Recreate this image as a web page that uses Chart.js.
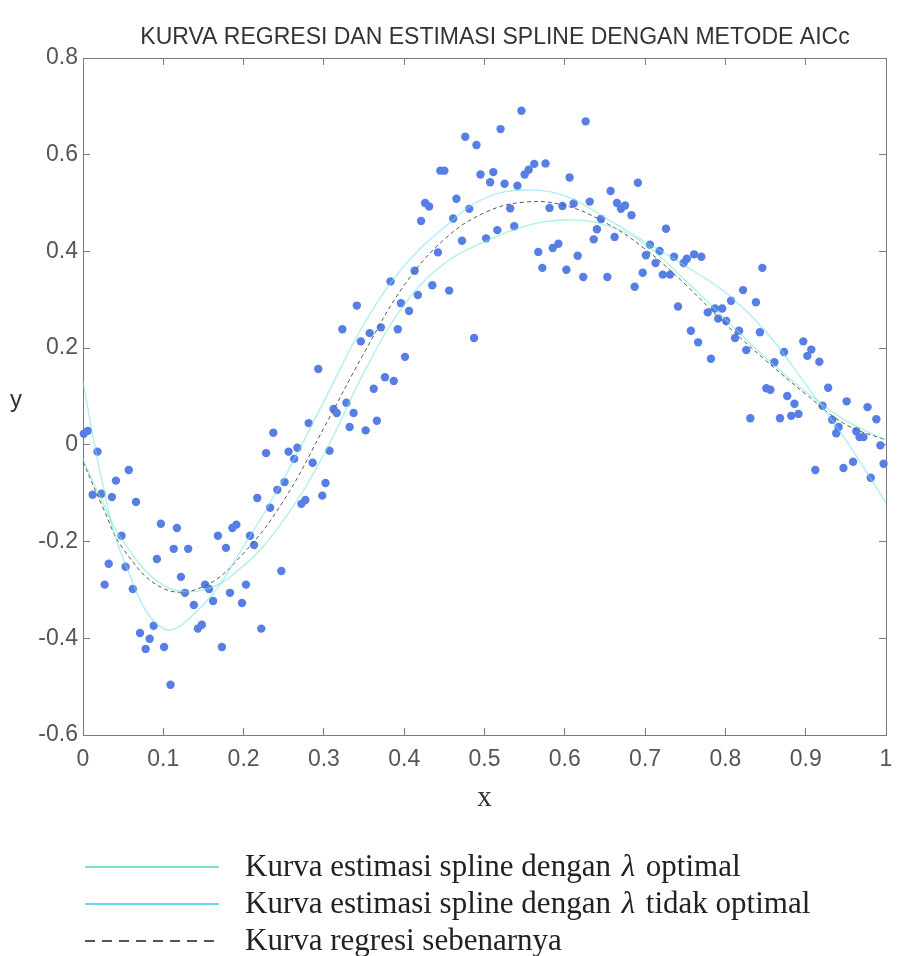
<!DOCTYPE html>
<html>
<head>
<meta charset="utf-8">
<script src="https://cdn.jsdelivr.net/npm/chart.js@4.4.1/dist/chart.umd.min.js"></script>
<style>
  body { margin: 0; background: #fff; }
  canvas { display: block; }
</style>
</head>
<body>
<canvas id="grafik" width="898" height="956"></canvas>
<script>

// DATI
var judul = 'KURVA REGRESI DAN ESTIMASI SPLINE DENGAN METODE AICc';

var titikX = [
  0.001, 0.006, 0.018, 0.012, 0.023, 0.036, 0.041, 0.057, 0.066, 0.048,
  0.032, 0.053, 0.027, 0.062, 0.071, 0.078, 0.083, 0.088, 0.101, 0.109,
  0.092, 0.097, 0.113, 0.117, 0.131, 0.122, 0.127, 0.138, 0.143, 0.148,
  0.152, 0.157, 0.162, 0.173, 0.168, 0.178, 0.186, 0.191, 0.183, 0.198,
  0.203, 0.208, 0.213, 0.217, 0.222, 0.233, 0.228, 0.237, 0.247, 0.242,
  0.251, 0.256, 0.263, 0.267, 0.272, 0.277, 0.281, 0.286, 0.298, 0.302,
  0.307, 0.312, 0.316, 0.328, 0.332, 0.337, 0.293, 0.352, 0.366, 0.362,
  0.376, 0.387, 0.401, 0.323, 0.341, 0.346, 0.357, 0.371, 0.392, 0.396,
  0.406, 0.383, 0.413, 0.417, 0.435, 0.442, 0.421, 0.426, 0.431, 0.456,
  0.461, 0.465, 0.481, 0.472, 0.445, 0.450, 0.476, 0.490, 0.487, 0.502,
  0.516, 0.537, 0.532, 0.495, 0.507, 0.511, 0.525, 0.541, 0.520, 0.546,
  0.550, 0.555, 0.562, 0.576, 0.567, 0.572, 0.581, 0.585, 0.592, 0.597,
  0.606, 0.602, 0.611, 0.616, 0.623, 0.626, 0.631, 0.636, 0.640, 0.645,
  0.653, 0.657, 0.662, 0.665, 0.670, 0.675, 0.683, 0.687, 0.691, 0.697,
  0.701, 0.706, 0.713, 0.718, 0.722, 0.731, 0.726, 0.736, 0.741, 0.748,
  0.752, 0.761, 0.770, 0.757, 0.766, 0.782, 0.778, 0.787, 0.796, 0.791,
  0.801, 0.807, 0.822, 0.817, 0.812, 0.826, 0.838, 0.846, 0.843, 0.831,
  0.851, 0.856, 0.861, 0.873, 0.868, 0.877, 0.882, 0.891, 0.886, 0.897,
  0.902, 0.907, 0.917, 0.928, 0.921, 0.933, 0.941, 0.938, 0.951, 0.963,
  0.967, 0.972, 0.977, 0.988, 0.993, 0.997, 0.912, 0.947, 0.959, 0.981
];

var titikY = [
  0.023, 0.029, -0.014, -0.103, -0.101, -0.108, -0.074, -0.052, -0.118, -0.188,
  -0.246, -0.252, -0.289, -0.298, -0.389, -0.422, -0.401, -0.374, -0.418, -0.496,
  -0.236, -0.163, -0.215, -0.172, -0.215, -0.273, -0.306, -0.331, -0.380, -0.372,
  -0.289, -0.298, -0.323, -0.418, -0.188, -0.213, -0.172, -0.165, -0.306, -0.327,
  -0.289, -0.188, -0.207, -0.110, -0.380, -0.130, -0.017, 0.025, -0.261, -0.093,
  -0.077, -0.014, -0.029, -0.006, -0.122, -0.114, 0.045, -0.037, -0.105, -0.079,
  -0.012, 0.074, 0.066, 0.087, 0.037, 0.066, 0.157, 0.030, 0.050, 0.116,
  0.140, 0.132, 0.182, 0.239, 0.288, 0.214, 0.231, 0.243, 0.239, 0.293,
  0.277, 0.338, 0.360, 0.310, 0.330, 0.398, 0.463, 0.500, 0.493, 0.319,
  0.468, 0.509, 0.488, 0.422, 0.567, 0.567, 0.637, 0.620, 0.221, 0.427,
  0.444, 0.452, 0.489, 0.559, 0.543, 0.564, 0.540, 0.536, 0.653, 0.691,
  0.559, 0.569, 0.581, 0.582, 0.399, 0.366, 0.490, 0.407, 0.416, 0.494,
  0.553, 0.362, 0.499, 0.391, 0.347, 0.669, 0.503, 0.425, 0.446, 0.467,
  0.347, 0.525, 0.430, 0.500, 0.488, 0.495, 0.475, 0.327, 0.542, 0.356,
  0.392, 0.414, 0.376, 0.401, 0.352, 0.352, 0.447, 0.389, 0.286, 0.376,
  0.385, 0.394, 0.389, 0.236, 0.212, 0.178, 0.274, 0.282, 0.282, 0.261,
  0.256, 0.298, 0.320, 0.236, 0.221, 0.196, 0.295, 0.366, 0.233, 0.055,
  0.117, 0.114, 0.171, 0.192, 0.055, 0.101, 0.060, 0.064, 0.085, 0.214,
  0.184, 0.197, 0.172, 0.118, 0.081, 0.052, 0.037, 0.024, 0.090, 0.028,
  0.016, 0.016, 0.078, 0.053, -0.001, -0.039, -0.052, -0.048, -0.035, -0.068
];

var kurvaX = [0, 0.025, 0.05, 0.1, 0.15, 0.2, 0.25, 0.3, 0.35, 0.4, 0.45,
              0.5, 0.55, 0.6, 0.65, 0.7, 0.75, 0.8, 0.85, 0.9, 0.95, 1];

var kurvaOptimal = [-0.03, -0.12, -0.2, -0.29, -0.3, -0.25, -0.155, -0.02, 0.15, 0.29, 0.375,
                    0.42, 0.452, 0.465, 0.455, 0.415, 0.34, 0.26, 0.18, 0.11, 0.05, 0.01];

var kurvaTidakOptimal = [0.13, -0.085, -0.235, -0.38, -0.33, -0.21, -0.07, 0.09, 0.25, 0.37, 0.45,
                         0.51, 0.527, 0.515, 0.47, 0.42, 0.37, 0.315, 0.235, 0.125, 0.01, -0.12];

var kurvaSebenarnya = [-0.035, -0.13, -0.215, -0.297, -0.293, -0.224, -0.115, 0.035, 0.19, 0.33, 0.425,
                       0.48, 0.502, 0.495, 0.46, 0.405, 0.332, 0.25, 0.175, 0.105, 0.042, 0.01];

var tickX = [0, 0.1, 0.2, 0.3, 0.4, 0.5, 0.6, 0.7, 0.8, 0.9, 1];
var tickY = [-0.6, -0.4, -0.2, 0, 0.2, 0.4, 0.6, 0.8];

var labelOptimal = 'Kurva estimasi spline dengan λ optimal';
var labelTidakOptimal = 'Kurva estimasi spline dengan λ tidak optimal';
var labelSebenarnya = 'Kurva regresi sebenarnya';


function creaPunti(xs, ys){
  var punti = [];
  for (let index = 0; index < xs.length; index++) {
    punti.push({x: xs[index], y: ys[index]});
  }
  return punti;
}

function formatTick(v){
  if (Math.abs(v) < 1e-9) return '0';
  if (Math.abs(v - 1) < 1e-9) return '1';
  return v.toFixed(1);
}

var fontSans = '"Liberation Sans", Arial, sans-serif';
var fontSerif = '"Liberation Serif", "Times New Roman", serif';
var warnaAsse = '#7a7a7a';

// titolo, etichetta y e legenda disegnati a mano
var testiExtra = {
  id: 'testiExtra',
  afterDraw: function(chart){
    var ctx = chart.ctx;
    ctx.save();

    ctx.fillStyle = '#333';
    ctx.font = '23px ' + fontSans;
    ctx.textAlign = 'center';
    ctx.textBaseline = 'middle';
    ctx.fillText(judul, 495, 38);

    ctx.font = '24px ' + fontSans;
    ctx.fillText('y', 16, 400);

    var righe = [867, 904, 941];
    var ds = chart.data.datasets;
    ctx.textAlign = 'left';
    for (let i = 0; i < 3; i++) {
      var d = ds[i];
      ctx.strokeStyle = d.legendColor;
      ctx.lineWidth = 2;
      ctx.setLineDash(d.borderDash ? [10, 7] : []);
      ctx.beginPath();
      ctx.moveTo(85, righe[i]);
      ctx.lineTo(219, righe[i]);
      ctx.stroke();
      ctx.setLineDash([]);

      ctx.fillStyle = '#222';
      var parti = d.label.split('λ');
      var x = 245;
      ctx.font = '31px ' + fontSerif;
      ctx.fillText(parti[0], x, righe[i] + 1);
      x += ctx.measureText(parti[0]).width;
      if (parti.length > 1) {
        x += 3;
        ctx.font = 'italic 31px ' + fontSerif;
        ctx.fillText('λ', x, righe[i] + 1);
        x += ctx.measureText('λ').width + 3;
        ctx.font = '31px ' + fontSerif;
        ctx.fillText(parti[1], x, righe[i] + 1);
      }
    }
    ctx.restore();
  }
};

function asse(posizione, tickList, visibile, misura){
  return {
    type: 'linear',
    position: posizione,
    min: tickList[0],
    max: tickList[tickList.length - 1],
    afterBuildTicks: function(scale){
      scale.ticks = tickList.map(function(v){ return {value: v}; });
    },
    afterFit: function(scale){
      if (scale.isHorizontal()) scale.height = misura;
      else scale.width = misura;
      scale.paddingLeft = 0;
      scale.paddingRight = 0;
      scale.paddingTop = 0;
      scale.paddingBottom = 0;
    },
    ticks: {
      display: visibile,
      autoSkip: false,
      maxRotation: 0,
      color: '#555',
      font: {family: fontSans, size: 23},
      padding: (posizione === 'bottom') ? 18 : 12,
      callback: function(v){ return formatTick(v); }
    },
    grid: {
      drawOnChartArea: false,
      drawTicks: true,
      tickLength: -7,
      color: warnaAsse,
      tickColor: warnaAsse
    },
    border: { display: true, color: warnaAsse, width: 1 }
  };
}

function init(){
  var ctx = document.getElementById('grafik').getContext('2d');

  var scalaX = asse('bottom', tickX, true, 81);
  scalaX.title = { display: true, text: 'x', color: '#333', padding: 0,
                   font: {family: fontSerif, size: 29} };
  var scalaX2 = asse('top', tickX, false, 0);
  var scalaY = asse('left', tickY, true, 83);
  var scalaY2 = asse('right', tickY, false, 0);

  var grafico = new Chart(ctx, {
    type: 'scatter',
    data: {
      datasets: [
        {
          type: 'line',
          label: labelOptimal,
          data: creaPunti(kurvaX, kurvaOptimal),
          borderColor: 'rgba(120, 232, 190, 0.6)',
          legendColor: 'rgb(120, 228, 185)',
          borderWidth: 1.3,
          pointRadius: 0,
          tension: 0.4,
          fill: false,
          clip: false
        },
        {
          type: 'line',
          label: labelTidakOptimal,
          data: creaPunti(kurvaX, kurvaTidakOptimal),
          borderColor: 'rgba(120, 222, 240, 0.6)',
          legendColor: 'rgb(110, 215, 238)',
          borderWidth: 1.3,
          pointRadius: 0,
          tension: 0.4,
          fill: false,
          clip: false
        },
        {
          type: 'line',
          label: labelSebenarnya,
          data: creaPunti(kurvaX, kurvaSebenarnya),
          borderColor: '#5a5a5a',
          legendColor: '#555',
          borderDash: [4, 3],
          borderWidth: 1,
          pointRadius: 0,
          tension: 0.4,
          fill: false,
          clip: false
        },
        {
          label: 'data',
          data: creaPunti(titikX, titikY),
          backgroundColor: 'rgb(86, 126, 228)',
          borderWidth: 0,
          pointRadius: 4.2,
          clip: false
        }
      ]
    },
    options: {
      responsive: false,
      animation: false,
      devicePixelRatio: 1,
      layout: { padding: { top: 58, right: 12, bottom: 140, left: 0 } },
      plugins: {
        legend: { display: false },
        title: { display: false },
        tooltip: { enabled: false }
      },
      scales: { x: scalaX, x2: scalaX2, y: scalaY, y2: scalaY2 }
    },
    plugins: [testiExtra]
  });
}

init();
</script>
</body>
</html>
